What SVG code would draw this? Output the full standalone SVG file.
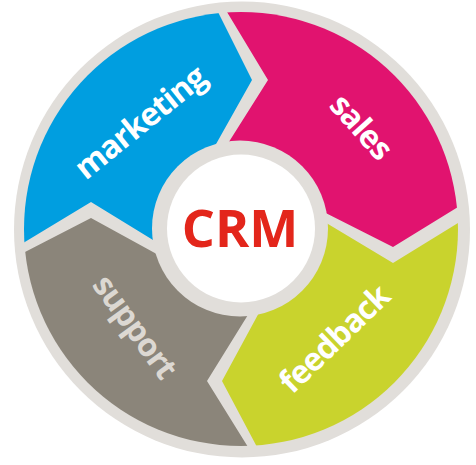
<svg xmlns="http://www.w3.org/2000/svg" width="476" height="465" viewBox="0 0 476 465">
  <style>
    .lbl { font-family: "Open Sans", "Liberation Sans", sans-serif; font-weight: bold; font-size: 32px; letter-spacing: -1px; text-anchor: middle; }
    .crm { font-family: "Open Sans", "Liberation Sans", sans-serif; font-weight: bold; font-size: 52px; text-anchor: middle; fill: #e3261b; }
    .ring { fill: #e1deda; }
  </style>
  <defs>
    <clipPath id="disk">
      <circle cx="241" cy="229" r="217"/>
    </clipPath>
  </defs>
  <rect width="476" height="465" fill="#ffffff"/>
  <circle class="ring" cx="242" cy="229.5" r="228"/>
  <g clip-path="url(#disk)">
    <g id="marketing">
      <path d="M241,229 L184,259 L91,202 L-45,284 L-60,-60 L184,-56 L252,80 L188,194 Z" fill="#009ee0"/>
    </g>
    <g id="sales">
      <path d="M241,229 L196,194 L268,80 L186,-56 L540,-60 L523,167 L393,247 L298,199 Z" fill="#e1136f"/>
    </g>
    <g id="feedback">
      <path d="M241,229 L298,206 L393,263 L523,183 L540,540 L292,513 L222,381 L274,285 Z" fill="#c9d32d"/>
    </g>
    <g id="support">
      <path d="M241,229 L264,289 L207,381 L289,513 L-60,540 L-41,286 L91,218 L184,269 Z" fill="#8b857a"/>
    </g>
  </g>
  <g id="labels">
    <text class="lbl" fill="#ffffff" transform="translate(147,131) rotate(-39)">marketing</text>
    <text class="lbl" fill="#ffffff" transform="translate(353,134) rotate(48)">sales</text>
    <text class="lbl" fill="#ffffff" transform="translate(342,347) rotate(-44)">feedback</text>
    <text class="lbl" fill="#dcd8d2" transform="translate(126,333) rotate(54)">support</text>
  </g>
  <g id="crm">
    <circle class="ring" cx="240" cy="228.5" r="88"/>
    <circle cx="241" cy="228.5" r="74" fill="#ffffff"/>
    <text class="crm" x="240" y="247">CRM</text>
  </g>
</svg>
